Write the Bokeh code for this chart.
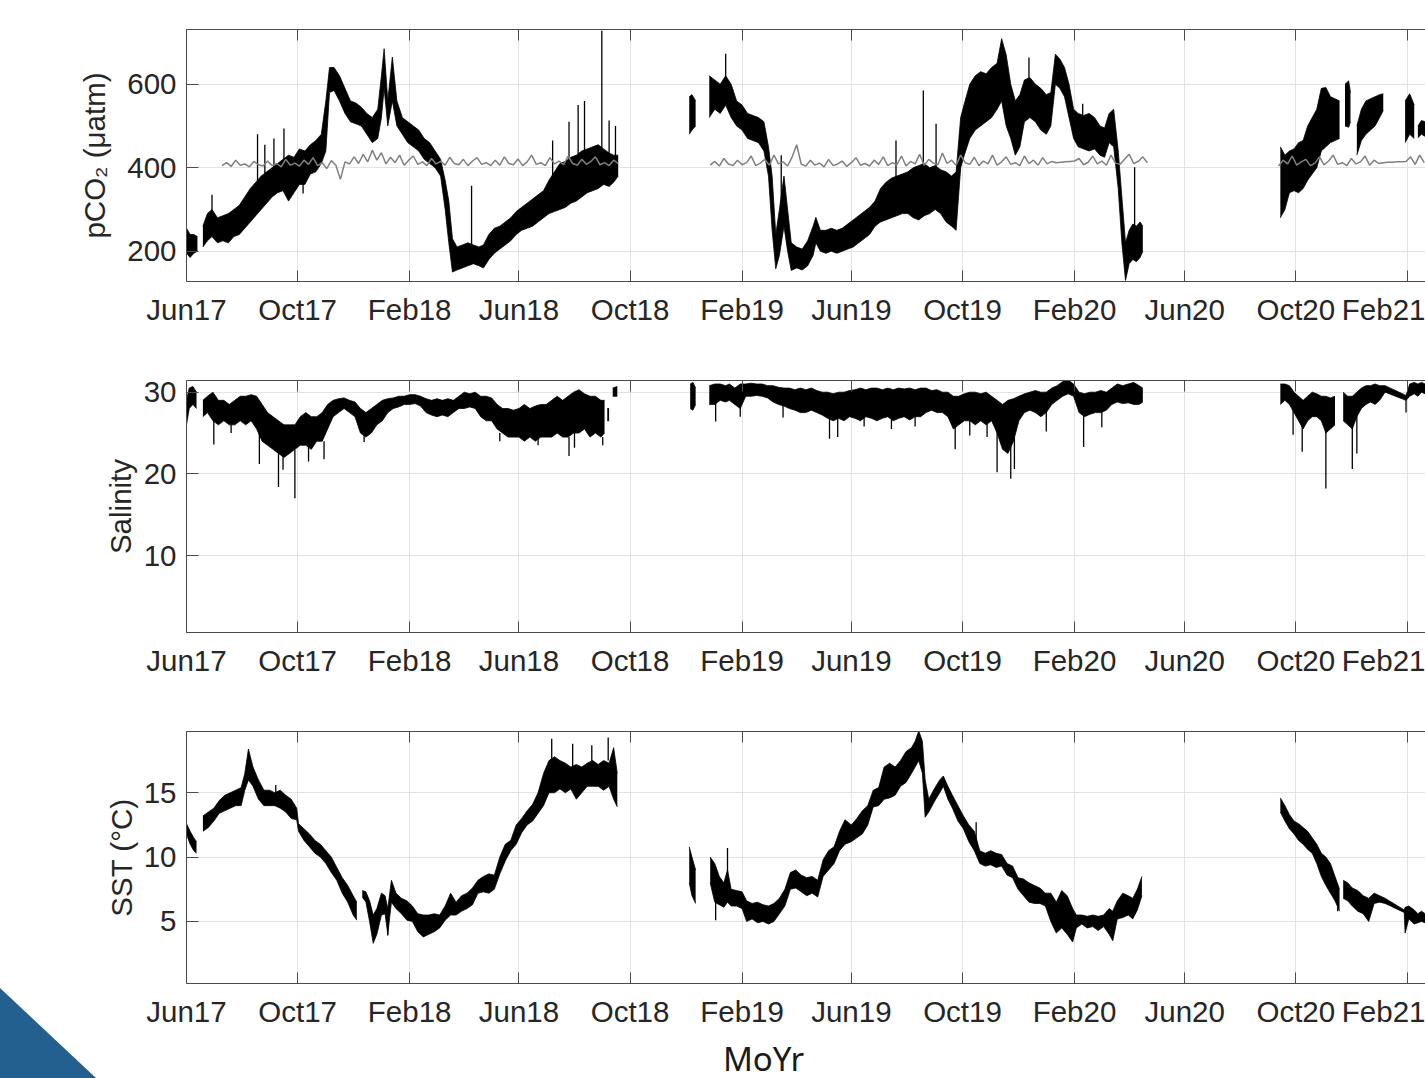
import pandas as pd
from bokeh.plotting import figure
from bokeh.layouts import column
from bokeh.models import Range1d, FixedTicker, DatetimeAxis, CustomJSTickFormatter, Div
from bokeh.embed import file_html
from bokeh.resources import INLINE

# ---------------- axis data ----------------
TICK_DATES = ["2017-06-01", "2017-10-01", "2018-02-01", "2018-06-01", "2018-10-01",
              "2019-02-01", "2019-06-01", "2019-10-01", "2020-02-01", "2020-06-01",
              "2020-10-01", "2021-02-01"]
TICK_LABELS = ["Jun17", "Oct17", "Feb18", "Jun18", "Oct18", "Feb19", "Jun19", "Oct19",
               "Feb20", "Jun20", "Oct20", "Feb21"]
X_START, X_END = "2017-06-01", "2021-02-20 09:00"
X_TITLE = "MoYr"

PCO2_RANGE = (127.4, 731.0)
SAL_RANGE = (0.58, 31.43)
SST_RANGE = (0.18, 19.76)
PCO2_TICKS = [200, 400, 600]
SAL_TICKS = [10, 20, 30]
SST_TICKS = [5, 10, 15]

# ---------------- pCO2 water (date, low, high) ----------------
pco2_1a = [("2017-06-01", 195, 255), ("2017-06-05", 185, 240), ("2017-06-09", 195, 240),
           ("2017-06-13", 200, 235)]
pco2_1b = [("2017-06-19", 210, 260), ("2017-06-24", 225, 290), ("2017-06-29", 235, 300),
           ("2017-07-05", 220, 280), ("2017-07-11", 225, 285), ("2017-07-17", 220, 290),
           ("2017-07-23", 235, 300), ("2017-07-29", 240, 310), ("2017-08-04", 255, 330),
           ("2017-08-10", 270, 350), ("2017-08-16", 285, 365), ("2017-08-22", 300, 380),
           ("2017-08-28", 315, 390), ("2017-09-03", 330, 400), ("2017-09-09", 340, 410),
           ("2017-09-15", 345, 420), ("2017-09-21", 320, 430), ("2017-09-27", 340, 425),
           ("2017-10-03", 360, 445), ("2017-10-09", 360, 440), ("2017-10-15", 385, 455),
           ("2017-10-21", 390, 465), ("2017-10-27", 410, 480), ("2017-11-01", 440, 560),
           ("2017-11-05", 580, 640), ("2017-11-10", 585, 640), ("2017-11-16", 560, 620),
           ("2017-11-22", 530, 590), ("2017-11-28", 510, 560), ("2017-12-04", 505, 555),
           ("2017-12-10", 500, 545), ("2017-12-16", 480, 530), ("2017-12-22", 460, 520),
           ("2017-12-28", 470, 540), ("2018-01-01", 520, 620), ("2018-01-04", 590, 685),
           ("2018-01-08", 500, 560), ("2018-01-13", 560, 665), ("2018-01-18", 500, 560),
           ("2018-01-24", 480, 520), ("2018-01-30", 460, 510), ("2018-02-05", 450, 500),
           ("2018-02-11", 440, 490), ("2018-02-17", 420, 470), ("2018-02-23", 410, 460),
           ("2018-03-01", 400, 440), ("2018-03-07", 380, 420), ("2018-03-12", 300, 370),
           ("2018-03-16", 220, 320), ("2018-03-20", 150, 230), ("2018-03-25", 155, 210),
           ("2018-03-31", 160, 215), ("2018-04-06", 165, 220), ("2018-04-12", 170, 215),
           ("2018-04-18", 165, 210), ("2018-04-23", 160, 215), ("2018-04-29", 180, 240),
           ("2018-05-05", 195, 255), ("2018-05-11", 205, 260), ("2018-05-17", 215, 270),
           ("2018-05-23", 225, 280), ("2018-05-29", 240, 295), ("2018-06-04", 250, 305),
           ("2018-06-10", 255, 315), ("2018-06-16", 260, 325), ("2018-06-22", 270, 335),
           ("2018-06-28", 280, 345), ("2018-07-04", 290, 370), ("2018-07-10", 295, 390),
           ("2018-07-16", 300, 410), ("2018-07-22", 305, 415), ("2018-07-28", 315, 425),
           ("2018-08-03", 320, 430), ("2018-08-09", 330, 440), ("2018-08-15", 340, 445),
           ("2018-08-21", 345, 450), ("2018-08-27", 350, 455), ("2018-09-02", 360, 445),
           ("2018-09-08", 355, 435), ("2018-09-13", 365, 430), ("2018-09-18", 380, 430)]
pco2_2a = [("2018-12-05", 480, 570), ("2018-12-08", 490, 575), ("2018-12-12", 500, 560)]
pco2_2b = [("2018-12-27", 520, 620), ("2019-01-02", 540, 610), ("2019-01-08", 530, 600),
           ("2019-01-14", 550, 620), ("2019-01-20", 520, 600), ("2019-01-26", 500, 560),
           ("2019-02-01", 490, 550), ("2019-02-07", 470, 530), ("2019-02-13", 465, 525),
           ("2019-02-19", 460, 520), ("2019-02-25", 440, 510), ("2019-03-02", 380, 450),
           ("2019-03-06", 250, 380), ("2019-03-10", 158, 240), ("2019-03-14", 190, 300),
           ("2019-03-19", 260, 380), ("2019-03-23", 200, 300), ("2019-03-27", 154, 220),
           ("2019-04-02", 160, 210), ("2019-04-08", 155, 205), ("2019-04-14", 165, 225),
           ("2019-04-20", 190, 260), ("2019-04-23", 220, 281), ("2019-04-28", 200, 250),
           ("2019-05-04", 195, 250), ("2019-05-10", 200, 255), ("2019-05-16", 195, 250),
           ("2019-05-22", 200, 255), ("2019-05-28", 205, 265), ("2019-06-03", 210, 275),
           ("2019-06-09", 220, 285), ("2019-06-15", 230, 295), ("2019-06-21", 240, 305),
           ("2019-06-27", 260, 320), ("2019-07-03", 270, 350), ("2019-07-09", 275, 365),
           ("2019-07-15", 280, 375), ("2019-07-21", 285, 380), ("2019-07-27", 290, 385),
           ("2019-08-02", 290, 390), ("2019-08-08", 280, 400), ("2019-08-14", 275, 405),
           ("2019-08-20", 285, 410), ("2019-08-26", 290, 400), ("2019-09-01", 300, 405),
           ("2019-09-07", 290, 395), ("2019-09-13", 270, 390), ("2019-09-19", 260, 380),
           ("2019-09-24", 250, 390), ("2019-09-29", 400, 520), ("2019-10-03", 430, 553),
           ("2019-10-09", 470, 600), ("2019-10-15", 490, 620), ("2019-10-21", 500, 630),
           ("2019-10-27", 510, 625), ("2019-11-02", 520, 640), ("2019-11-08", 540, 650),
           ("2019-11-13", 560, 709), ("2019-11-18", 500, 670), ("2019-11-23", 470, 600),
           ("2019-11-28", 430, 560), ("2019-12-03", 450, 575), ("2019-12-08", 510, 610),
           ("2019-12-14", 520, 616), ("2019-12-20", 510, 600), ("2019-12-26", 490, 590),
           ("2020-01-01", 480, 575), ("2020-01-06", 500, 580), ("2020-01-11", 600, 672),
           ("2020-01-16", 590, 660), ("2020-01-21", 570, 640), ("2020-01-26", 520, 600),
           ("2020-01-31", 470, 540), ("2020-02-05", 450, 530), ("2020-02-11", 445, 525),
           ("2020-02-17", 440, 530), ("2020-02-23", 445, 520), ("2020-02-29", 430, 500),
           ("2020-03-05", 425, 495), ("2020-03-10", 460, 530), ("2020-03-15", 450, 540),
           ("2020-03-20", 350, 440), ("2020-03-24", 220, 330), ("2020-03-28", 130, 220),
           ("2020-04-01", 170, 250), ("2020-04-05", 180, 265), ("2020-04-09", 175, 260),
           ("2020-04-13", 185, 270), ("2020-04-16", 200, 260)]
pco2_3a = [("2020-09-14", 280, 450), ("2020-09-19", 300, 430), ("2020-09-24", 340, 440),
           ("2020-09-29", 345, 445), ("2020-10-04", 340, 460), ("2020-10-09", 350, 465),
           ("2020-10-14", 370, 500), ("2020-10-19", 385, 520), ("2020-10-24", 400, 540),
           ("2020-10-29", 440, 590), ("2020-11-03", 450, 592), ("2020-11-08", 460, 570),
           ("2020-11-13", 465, 565), ("2020-11-18", 470, 560)]
pco2_3b = [("2020-11-24", 500, 600), ("2020-11-28", 497, 608), ("2020-11-30", 510, 580)]
pco2_3c = [("2020-12-07", 430, 500), ("2020-12-12", 465, 540), ("2020-12-17", 480, 560),
           ("2020-12-22", 490, 565), ("2020-12-27", 500, 570), ("2021-01-01", 520, 575),
           ("2021-01-05", 537, 577)]
pco2_3d = [("2021-01-29", 460, 560), ("2021-02-03", 480, 577), ("2021-02-08", 470, 550)]
pco2_3e = [("2021-02-12", 472, 500), ("2021-02-16", 480, 513), ("2021-02-20", 475, 510)]
pco2_spikes = [("2017-06-29", 290, 335), ("2017-08-18", 360, 480), ("2017-08-26", 380, 455),
               ("2017-09-05", 395, 470), ("2017-09-16", 415, 494), ("2017-10-07", 370, 338),
               ("2018-04-10", 215, 357), ("2018-07-08", 380, 465), ("2018-07-26", 420, 510),
               ("2018-08-05", 425, 550), ("2018-08-12", 440, 560), ("2018-08-31", 445, 728),
               ("2018-09-08", 430, 513), ("2018-09-15", 425, 500), ("2019-01-14", 600, 673),
               ("2019-03-16", 300, 430), ("2019-07-20", 375, 465), ("2019-08-19", 405, 585),
               ("2019-09-02", 400, 505), ("2019-09-28", 390, 481), ("2019-12-13", 610, 664),
               ("2020-02-10", 525, 553), ("2020-04-07", 260, 401)]

# ---------------- pCO2 atmosphere: start date, 5-day samples ----------------
ATM_STEP = "5D"
atm_1_start = "2017-07-10"
atm_1 = [405, 412, 403, 418, 406, 409, 402, 415, 407, 404,
         416, 405, 410, 402, 420, 406, 411, 404, 418, 408,
         424, 405, 412, 398, 417, 406, 372, 414, 409, 426,
         410, 432, 414, 442, 418, 436, 409, 425, 412, 430,
         406, 418, 428, 408, 414, 405, 422, 409, 415, 406,
         425, 410, 407, 420, 405, 416, 424, 408, 412, 405,
         418, 406, 426, 410, 407, 421, 405, 414, 430, 408,
         412, 405, 424, 409, 416, 407, 428, 410, 406, 420,
         408, 415, 426, 407, 412, 405, 418, 410]
atm_2_start = "2018-12-28"
atm_2 = [406, 415, 404, 422, 409, 405, 418, 407, 412, 428,
         405, 411, 420, 406, 430, 409, 414, 404, 426, 455,
         408, 404, 418, 406, 411, 402, 420, 405, 409, 416,
         403, 412, 424, 406, 410, 404, 418, 408, 426, 405,
         412, 407, 428, 404, 415, 409, 432, 406, 420, 411,
         407, 435, 410, 418, 406, 430, 412, 408, 425, 405,
         416, 409, 430, 406, 414, 426, 408, 412, 405, 428,
         410, 418, 406, 424, 409, 415, 412, 413, 414, 415,
         416, 422, 407, 413, 428, 409, 416, 406, 430, 411,
         408, 420, 432, 410, 415, 426, 412]
atm_3_start = "2020-09-12"
atm_3 = [404, 418, 409, 428, 406, 414, 420, 405, 411, 426,
         407, 416, 430, 408, 412, 405, 422, 409, 414, 428,
         406, 418, 410, 412, 413, 413, 414, 414, 415, 426,
         408, 430, 412]

# ---------------- Salinity (date, low, high) ----------------
sal_1a = [("2017-06-01", 26, 29), ("2017-06-04", 28, 30.5), ("2017-06-08", 28.5, 30.7),
          ("2017-06-12", 28, 30)]
sal_1b = [("2017-06-19", 27, 29), ("2017-06-24", 27.5, 29.5), ("2017-06-30", 26.5, 30),
          ("2017-07-06", 26, 29), ("2017-07-12", 26.5, 29), ("2017-07-18", 26, 28.5),
          ("2017-07-24", 26, 29), ("2017-07-30", 26.5, 29.5), ("2017-08-05", 26, 29.5),
          ("2017-08-11", 26.5, 29.7), ("2017-08-17", 25.5, 29.5), ("2017-08-23", 24, 28.5),
          ("2017-08-29", 23.5, 27.5), ("2017-09-04", 23, 27), ("2017-09-10", 22.5, 26.5),
          ("2017-09-16", 22, 26), ("2017-09-22", 22.5, 26), ("2017-09-28", 23, 26),
          ("2017-10-04", 23.5, 27), ("2017-10-10", 23.5, 27.5), ("2017-10-16", 23, 27),
          ("2017-10-22", 24, 27), ("2017-10-28", 24, 27.5), ("2017-11-03", 25.5, 28.5),
          ("2017-11-09", 27, 29), ("2017-11-15", 27.5, 29.2), ("2017-11-21", 28, 29.3),
          ("2017-11-27", 27.5, 29), ("2017-12-03", 27, 28.8), ("2017-12-09", 25, 28),
          ("2017-12-15", 24.5, 27.5), ("2017-12-21", 25, 28), ("2017-12-27", 26, 28.5),
          ("2018-01-02", 26.5, 29), ("2018-01-08", 27.5, 29.2), ("2018-01-14", 28, 29.3),
          ("2018-01-20", 28.2, 29.5), ("2018-01-26", 28.5, 29.5), ("2018-02-01", 28.5, 29.7),
          ("2018-02-07", 28.6, 29.7), ("2018-02-13", 28.3, 29.5), ("2018-02-19", 27.5, 29.2),
          ("2018-02-25", 27.2, 29), ("2018-03-03", 27, 29.2), ("2018-03-09", 27.2, 29),
          ("2018-03-15", 27, 29.2), ("2018-03-21", 27.5, 29), ("2018-03-27", 28, 29.5),
          ("2018-04-02", 28, 30), ("2018-04-08", 28.2, 29.8), ("2018-04-14", 28, 30),
          ("2018-04-20", 27, 29.5), ("2018-04-26", 26.5, 29.5), ("2018-05-02", 26.5, 29.3),
          ("2018-05-08", 25.5, 28.5), ("2018-05-14", 25, 28), ("2018-05-20", 24.5, 28),
          ("2018-05-26", 24.5, 27.8), ("2018-06-01", 24.5, 28), ("2018-06-07", 24, 28.5),
          ("2018-06-13", 24.5, 28), ("2018-06-19", 24, 28.3), ("2018-06-25", 24.5, 28.5),
          ("2018-07-01", 24.5, 28.5), ("2018-07-07", 24.5, 29), ("2018-07-13", 25, 29.5),
          ("2018-07-19", 24.5, 29), ("2018-07-25", 24.5, 29.5), ("2018-07-31", 25, 30),
          ("2018-08-06", 25, 30.3), ("2018-08-12", 25.5, 29.8), ("2018-08-18", 24.5, 29.5),
          ("2018-08-24", 25, 29.5), ("2018-08-30", 24.5, 29), ("2018-09-03", 25, 29)]
sal_1c = [("2018-09-06", 26.5, 28), ("2018-09-08", 26.5, 28)]
sal_1d = [("2018-09-12", 29.5, 30.5), ("2018-09-17", 29.5, 30.7)]
sal_2a = [("2018-12-06", 28, 31), ("2018-12-09", 27.8, 31.2), ("2018-12-12", 28.5, 30.5)]
sal_2b = [("2018-12-27", 28.5, 30.8), ("2019-01-02", 28.5, 31), ("2019-01-08", 29, 31),
          ("2019-01-14", 28.8, 30.8), ("2019-01-18", 29, 31), ("2019-01-24", 28.5, 30.5),
          ("2019-01-30", 28, 31), ("2019-02-05", 29.5, 31), ("2019-02-11", 29.5, 31.1),
          ("2019-02-17", 29.6, 31), ("2019-02-23", 29.5, 31), ("2019-03-01", 29.3, 30.8),
          ("2019-03-07", 28.8, 30.8), ("2019-03-13", 28.5, 30.6), ("2019-03-19", 28.3, 30.5),
          ("2019-03-25", 28, 30.5), ("2019-03-31", 27.8, 30.3), ("2019-04-06", 27.5, 30.5),
          ("2019-04-12", 27.5, 30.3), ("2019-04-18", 27.8, 30.5), ("2019-04-24", 27.5, 30.2),
          ("2019-04-30", 27.2, 30), ("2019-05-06", 26.8, 30), ("2019-05-12", 26.5, 29.8),
          ("2019-05-18", 26.8, 30), ("2019-05-24", 26.5, 30), ("2019-05-30", 27, 30.2),
          ("2019-06-05", 26.8, 30.3), ("2019-06-11", 26.5, 30.5), ("2019-06-17", 27, 30.3),
          ("2019-06-23", 26.8, 30.5), ("2019-06-29", 26.5, 30.5), ("2019-07-05", 26.8, 30.3),
          ("2019-07-11", 27, 30.5), ("2019-07-17", 26.5, 30.3), ("2019-07-23", 26.8, 30.5),
          ("2019-07-29", 27, 30.4), ("2019-08-04", 26.6, 30.5), ("2019-08-10", 27, 30.3),
          ("2019-08-16", 27, 30.5), ("2019-08-22", 27.5, 30.5), ("2019-08-28", 27.8, 30.2),
          ("2019-09-03", 27.5, 30.3), ("2019-09-09", 27.5, 30), ("2019-09-15", 27, 30),
          ("2019-09-21", 25.5, 29.5), ("2019-09-27", 26, 29.5), ("2019-10-03", 26.5, 29.8),
          ("2019-10-09", 26.5, 30), ("2019-10-15", 26, 30), ("2019-10-21", 26.5, 29.8),
          ("2019-10-27", 26, 30), ("2019-11-02", 26.5, 29.5), ("2019-11-08", 25, 29),
          ("2019-11-14", 23, 28.5), ("2019-11-20", 22.5, 29), ("2019-11-26", 24, 29.2),
          ("2019-12-02", 26.5, 29.5), ("2019-12-08", 27.5, 29.8), ("2019-12-14", 27.8, 30),
          ("2019-12-20", 27.5, 30.2), ("2019-12-26", 27, 30), ("2020-01-01", 27.5, 30),
          ("2020-01-07", 28.5, 30.5), ("2020-01-13", 29, 30.8), ("2020-01-19", 29.5, 31.3),
          ("2020-01-25", 29.8, 31.5), ("2020-01-31", 29.5, 31), ("2020-02-06", 27.5, 30),
          ("2020-02-12", 27, 29.8), ("2020-02-18", 27.3, 30), ("2020-02-24", 27.5, 30),
          ("2020-03-01", 27.5, 30.2), ("2020-03-07", 27.8, 30), ("2020-03-13", 28.5, 30.5),
          ("2020-03-19", 28.8, 31), ("2020-03-25", 28.6, 30.8), ("2020-03-31", 28.7, 31),
          ("2020-04-06", 28.5, 31.2), ("2020-04-12", 28.5, 30.8), ("2020-04-16", 28.8, 30.5)]
sal_3a = [("2020-09-14", 28.5, 31), ("2020-09-19", 29, 31), ("2020-09-24", 28.5, 30.8),
          ("2020-09-29", 27.5, 30), ("2020-10-04", 26.5, 29.5), ("2020-10-09", 25.5, 29),
          ("2020-10-14", 26.5, 29.5), ("2020-10-19", 27, 30), ("2020-10-24", 27, 29.8),
          ("2020-10-29", 26.5, 29.5), ("2020-11-03", 25, 29.5), ("2020-11-08", 25.5, 29.3),
          ("2020-11-13", 26, 29.5)]
sal_3b = [("2020-11-22", 26.5, 30), ("2020-11-27", 26, 29.5), ("2020-12-02", 25.5, 29.5),
          ("2020-12-07", 27, 30), ("2020-12-12", 28, 30.5), ("2020-12-17", 28.5, 30.8),
          ("2020-12-22", 28.8, 30.8), ("2020-12-27", 28.5, 31), ("2021-01-01", 29, 30.8),
          ("2021-01-07", 30, 30.8), ("2021-01-30", 29, 29.6), ("2021-02-03", 29.5, 31),
          ("2021-02-08", 29.8, 31.2), ("2021-02-12", 29.5, 31), ("2021-02-16", 30, 31.2),
          ("2021-02-20", 29.8, 31)]
sal_spikes = [("2017-07-01", 26.5, 23.6), ("2017-07-20", 26, 25), ("2017-08-20", 25, 21.2),
              ("2017-09-10", 23, 18.4), ("2017-09-15", 22.5, 20.5), ("2017-09-28", 23, 17),
              ("2017-10-13", 23.5, 21.5), ("2017-10-30", 24, 21.8), ("2017-12-13", 25, 23.9),
              ("2018-05-11", 25, 24), ("2018-06-22", 24.5, 23.5), ("2018-07-26", 24.5, 22.2),
              ("2018-08-01", 25, 23.2), ("2018-09-01", 24.5, 23.5), ("2019-01-03", 29, 26.4),
              ("2019-01-30", 29, 27), ("2019-03-18", 29, 26.9), ("2019-05-08", 27.5, 24.3),
              ("2019-05-17", 27.5, 24.5), ("2019-06-15", 27.5, 25.8), ("2019-07-15", 27.5, 25.5),
              ("2019-08-10", 27.5, 25.8), ("2019-09-23", 26, 23), ("2019-10-09", 27, 24.7),
              ("2019-10-28", 27, 24.5), ("2019-11-08", 25.5, 20.2), ("2019-11-23", 23.5, 19.4),
              ("2019-11-27", 24.5, 20.6), ("2020-01-01", 28, 25.2), ("2020-02-11", 27.5, 23.3),
              ("2020-03-02", 28, 25.7), ("2020-09-28", 28, 24.8), ("2020-10-08", 26, 22.7),
              ("2020-11-03", 25.5, 18.2), ("2020-12-02", 26, 20.6), ("2020-12-07", 27.5, 22.5),
              ("2021-01-30", 29.3, 27.5)]

# ---------------- SST (date, low, high) ----------------
sst_1a = [("2017-06-01", 11.8, 12.6), ("2017-06-05", 11, 12), ("2017-06-09", 10.5, 11.5),
          ("2017-06-12", 10.3, 11.2)]
sst_1b = [("2017-06-19", 12, 13.2), ("2017-06-25", 12.3, 13.5), ("2017-07-01", 12.8, 13.8),
          ("2017-07-07", 13.4, 14.4), ("2017-07-13", 13.6, 14.8), ("2017-07-19", 13.8, 15),
          ("2017-07-25", 14, 15.2), ("2017-07-31", 14, 15.4), ("2017-08-04", 15.2, 16.5),
          ("2017-08-08", 16, 18.4), ("2017-08-13", 15.5, 17), ("2017-08-19", 14.5, 16),
          ("2017-08-25", 14, 15.2), ("2017-08-31", 14, 15.2), ("2017-09-06", 14, 15),
          ("2017-09-12", 13.8, 15.2), ("2017-09-18", 13.5, 14.8), ("2017-09-24", 13, 14.5),
          ("2017-09-30", 12.9, 13.8), ("2017-10-02", 12, 12.6), ("2017-10-08", 11.3, 12.2),
          ("2017-10-14", 10.8, 11.8), ("2017-10-20", 10.3, 11.3), ("2017-10-26", 10, 11),
          ("2017-11-01", 9.5, 10.5), ("2017-11-07", 8.8, 10), ("2017-11-13", 8.2, 9.2),
          ("2017-11-19", 7.2, 8.4), ("2017-11-25", 6.5, 7.8), ("2017-12-01", 5.5, 7),
          ("2017-12-05", 5.1, 6.5)]
sst_1c = [("2017-12-11", 6.9, 7.4), ("2017-12-15", 6.5, 7.3), ("2017-12-19", 5, 6.6),
          ("2017-12-23", 3.3, 5.5), ("2017-12-27", 4, 6), ("2018-01-01", 5.5, 7.2),
          ("2018-01-05", 5.6, 7), ("2018-01-08", 4, 6), ("2018-01-12", 6.5, 8.2),
          ("2018-01-17", 6, 7.2), ("2018-01-23", 5.6, 6.8), ("2018-01-29", 5.1, 6.6),
          ("2018-02-04", 5, 6.2), ("2018-02-10", 4.2, 5.6), ("2018-02-16", 3.8, 5.5),
          ("2018-02-22", 4, 5.5), ("2018-02-28", 4.2, 5.6), ("2018-03-06", 4.5, 5.5),
          ("2018-03-12", 5.1, 6.2), ("2018-03-18", 5.5, 7.2), ("2018-03-24", 5.5, 6.5),
          ("2018-03-30", 5.8, 7), ("2018-04-05", 6, 7.2), ("2018-04-11", 6.3, 7.6),
          ("2018-04-17", 7.2, 8.2), ("2018-04-23", 7.3, 8.5), ("2018-04-29", 7.2, 8.7),
          ("2018-05-05", 7.5, 8.6), ("2018-05-11", 8.7, 10), ("2018-05-17", 9.7, 11),
          ("2018-05-23", 10.5, 11.3), ("2018-05-29", 11, 12.5), ("2018-06-04", 11.9, 13),
          ("2018-06-10", 12.5, 13.6), ("2018-06-16", 12.8, 14.1), ("2018-06-22", 13.4, 15),
          ("2018-06-28", 14, 16.5), ("2018-07-04", 15, 17.5), ("2018-07-10", 15, 17.8),
          ("2018-07-16", 15.3, 17.5), ("2018-07-22", 15, 17.3), ("2018-07-28", 15.3, 17),
          ("2018-08-03", 14.5, 17.2), ("2018-08-09", 15, 17), ("2018-08-15", 15.5, 17.3),
          ("2018-08-21", 15.5, 17.5), ("2018-08-27", 15.5, 17.2), ("2018-09-02", 15.2, 17.5),
          ("2018-09-08", 15.5, 17.3), ("2018-09-13", 14.5, 18.5), ("2018-09-17", 13.9, 16.5)]
sst_2a = [("2018-12-05", 8, 10.8), ("2018-12-08", 7, 10), ("2018-12-12", 6.4, 9)]
sst_2b = [("2018-12-28", 8, 10), ("2019-01-02", 6.5, 9.5), ("2019-01-07", 6.3, 8.5),
          ("2019-01-12", 6.1, 8), ("2019-01-16", 6.5, 9), ("2019-01-20", 6.2, 7.5),
          ("2019-01-26", 6.2, 7.4), ("2019-02-01", 6, 7.3), ("2019-02-06", 5, 6.6),
          ("2019-02-12", 5.2, 6.4), ("2019-02-18", 4.9, 6.5), ("2019-02-24", 5, 6.3),
          ("2019-03-02", 4.8, 6.2), ("2019-03-08", 5, 6.4), ("2019-03-14", 5.6, 6.8),
          ("2019-03-20", 6.2, 7.5), ("2019-03-26", 7.5, 8.8), ("2019-04-01", 7.6, 9),
          ("2019-04-07", 7.3, 8.6), ("2019-04-13", 7, 8.4), ("2019-04-19", 7.2, 8.5),
          ("2019-04-25", 6.9, 8.2), ("2019-05-01", 8.5, 9.8), ("2019-05-07", 9, 10.5),
          ("2019-05-13", 9.5, 10.8), ("2019-05-19", 10.5, 12), ("2019-05-25", 11, 12.9),
          ("2019-06-01", 11.2, 12.5), ("2019-06-07", 11.5, 13), ("2019-06-13", 11.8, 13.6),
          ("2019-06-19", 12.5, 14), ("2019-06-25", 13.9, 15.2), ("2019-07-01", 14, 15.4),
          ("2019-07-07", 14.5, 17), ("2019-07-13", 14.6, 17.3), ("2019-07-19", 14.8, 17),
          ("2019-07-25", 15.5, 17.5), ("2019-07-31", 15.8, 18.2), ("2019-08-06", 16.5, 18.5),
          ("2019-08-10", 17, 19), ("2019-08-14", 17.5, 19.8), ("2019-08-18", 16.5, 19),
          ("2019-08-21", 13.1, 16), ("2019-08-25", 13.5, 14.5), ("2019-08-31", 14.3, 15.3),
          ("2019-09-06", 15, 16), ("2019-09-10", 15.5, 16.3), ("2019-09-15", 14.5, 15.5),
          ("2019-09-20", 13.8, 14.8), ("2019-09-26", 12.8, 14), ("2019-10-02", 12.2, 13.2),
          ("2019-10-08", 11.2, 12.5), ("2019-10-14", 10.5, 12), ("2019-10-20", 9.5, 10.5),
          ("2019-10-26", 9.3, 10.3), ("2019-11-01", 9.4, 10.5), ("2019-11-07", 9.2, 10.3),
          ("2019-11-13", 9.3, 10.2), ("2019-11-19", 8.6, 9.5), ("2019-11-25", 8.4, 9.3),
          ("2019-12-01", 7.5, 8.4), ("2019-12-07", 7, 8.3), ("2019-12-13", 6.5, 8),
          ("2019-12-19", 6.4, 7.8), ("2019-12-25", 6.4, 7.6), ("2019-12-31", 6.2, 7.2),
          ("2020-01-06", 5, 7.2), ("2020-01-12", 4.1, 6.5), ("2020-01-18", 4.5, 7.4),
          ("2020-01-24", 4, 7), ("2020-01-30", 3.4, 6), ("2020-02-03", 4.5, 5.5),
          ("2020-02-09", 4.8, 5.5), ("2020-02-15", 4.5, 5.4), ("2020-02-21", 4.6, 5.5),
          ("2020-02-27", 4.3, 5.4), ("2020-03-04", 4.6, 5.5), ("2020-03-10", 4, 6),
          ("2020-03-14", 3.5, 5.8), ("2020-03-19", 5.2, 6.6), ("2020-03-25", 5.3, 7.2),
          ("2020-03-31", 5.5, 7), ("2020-04-05", 5.2, 6.8), ("2020-04-10", 5.9, 7.5),
          ("2020-04-15", 7, 8.5)]
sst_3a = [("2020-09-14", 13.5, 14.6), ("2020-09-19", 12.8, 14), ("2020-09-24", 12.2, 13.3),
          ("2020-09-29", 11.8, 12.8), ("2020-10-04", 11.3, 12.6), ("2020-10-09", 11, 12.3),
          ("2020-10-14", 10.6, 12), ("2020-10-19", 10.3, 11.5), ("2020-10-24", 9.5, 11),
          ("2020-10-29", 8.5, 10.3), ("2020-11-03", 7.8, 10), ("2020-11-08", 7.2, 9.5),
          ("2020-11-13", 6.6, 8.5), ("2020-11-18", 5.8, 7.5)]
sst_3b = [("2020-11-22", 6.8, 8.2), ("2020-11-27", 6.6, 8), ("2020-12-02", 6.2, 7.6),
          ("2020-12-08", 5.8, 7.4), ("2020-12-14", 5.6, 7), ("2020-12-20", 5, 6.8),
          ("2020-12-26", 6.4, 7.2), ("2021-01-01", 6.5, 7), ("2021-01-07", 6.4, 6.8),
          ("2021-01-28", 5.7, 5.9), ("2021-01-29", 4.1, 6.1), ("2021-02-02", 5.2, 6.2),
          ("2021-02-08", 4.8, 5.9), ("2021-02-12", 4.9, 5.6), ("2021-02-16", 5, 5.8),
          ("2021-02-20", 4.9, 5.6)]
sst_spikes = [("2017-09-07", 14.5, 15.6), ("2018-01-08", 5.5, 3.9), ("2018-07-07", 17.5, 19.2),
              ("2018-07-30", 17, 18.8), ("2018-08-20", 17, 18.7), ("2018-09-07", 17.5, 19.3),
              ("2019-01-03", 6.5, 5.1), ("2019-01-16", 8.5, 10.7), ("2019-10-16", 10.8, 12.7),
              ("2020-11-16", 7, 5.8)]

# ---------------- corner decoration (pixel space of the bottom strip) ----------------
STRIP_H = 90
CORNER_X = [0, 0, 96]
CORNER_Y = [0, 90, 90]

# ---------------- styling ----------------
W = 1425
FONT = "Liberation Sans"
TICK_SIZE = "29.5px"
TXT = "#262626"
AX = "#4a4a4a"
GRID = "#e3e3e3"
BLUE = "#24608f"
GRAY = "#808080"

xr = Range1d(start=pd.Timestamp(X_START), end=pd.Timestamp(X_END))
tick_ms = [pd.Timestamp(d).value // 10**6 for d in TICK_DATES]
tick_js = ("const lbls = %s; const tv = %s; const k = tv.indexOf(Math.round(tick));"
           " return k >= 0 ? lbls[k] : '';") % (str(TICK_LABELS), str(tick_ms))


def panel(height, top_border, yrange, yticks, ylabel, bottom, label_standoff):
    p = figure(width=W, height=height, x_range=xr, y_range=Range1d(*yrange),
               x_axis_type="datetime", output_backend="svg", toolbar_location=None,
               min_border_left=186, min_border_right=0, min_border_top=top_border,
               min_border_bottom=bottom, background_fill_color="white",
               border_fill_color="white")
    p.outline_line_color = None

    ax = p.xaxis[0]
    ax.ticker = FixedTicker(ticks=tick_ms)
    ax.formatter = CustomJSTickFormatter(code=tick_js)
    ax.major_tick_in = 11
    ax.major_tick_out = 0
    ax.minor_tick_in = 0
    ax.minor_tick_out = 0
    ax.major_label_standoff = 11
    ax.major_label_text_font = FONT
    ax.major_label_text_font_size = TICK_SIZE
    ax.major_label_text_color = TXT
    ax.axis_line_color = AX
    ax.major_tick_line_color = AX

    top = DatetimeAxis(ticker=FixedTicker(ticks=tick_ms),
                       formatter=CustomJSTickFormatter(code="return '';"),
                       major_label_text_font_size="1px", major_label_standoff=0,
                       major_tick_in=11, major_tick_out=0, minor_tick_in=0,
                       minor_tick_out=0, axis_line_color=AX, major_tick_line_color=AX)
    p.add_layout(top, "above")

    ay = p.yaxis[0]
    ay.ticker = FixedTicker(ticks=yticks)
    ay.major_tick_in = 12
    ay.major_tick_out = 0
    ay.minor_tick_in = 0
    ay.minor_tick_out = 0
    ay.major_label_standoff = 10
    ay.major_label_text_font = FONT
    ay.major_label_text_font_size = TICK_SIZE
    ay.major_label_text_color = TXT
    ay.axis_line_color = AX
    ay.major_tick_line_color = AX
    ay.axis_label = ylabel
    ay.axis_label_text_font = FONT
    ay.axis_label_text_font_size = TICK_SIZE
    ay.axis_label_text_font_style = "normal"
    ay.axis_label_text_color = TXT
    ay.axis_label_standoff = label_standoff

    p.xgrid.ticker = FixedTicker(ticks=tick_ms)
    p.ygrid.ticker = FixedTicker(ticks=yticks)
    p.xgrid.grid_line_color = GRID
    p.ygrid.grid_line_color = GRID
    return p


def draw_band(p, seg, color="black"):
    xs = pd.to_datetime([r[0] for r in seg])
    lo = [r[1] for r in seg]
    hi = [r[2] for r in seg]
    p.varea(x=xs, y1=lo, y2=hi, fill_color=color, fill_alpha=1.0)
    p.line(x=xs, y=hi, line_color=color, line_width=0.8)
    p.line(x=xs, y=lo, line_color=color, line_width=0.8)


def draw_trace(p, start, values, color):
    xs = pd.date_range(start, periods=len(values), freq=ATM_STEP)
    p.line(x=xs, y=values, line_color=color, line_width=1.5)


def draw_spikes(p, spikes, color="black"):
    xs = pd.to_datetime([r[0] for r in spikes])
    p.segment(x0=xs, y0=[r[1] for r in spikes], x1=xs, y1=[r[2] for r in spikes],
              line_color=color, line_width=1.3)


# panel 1: pCO2
p1 = panel(359, 29, PCO2_RANGE, PCO2_TICKS, "pCO\u2082 (\u03bcatm)", 78, 13)
for seg in [pco2_1a, pco2_1b, pco2_2a, pco2_2b, pco2_3a, pco2_3b, pco2_3c, pco2_3d, pco2_3e]:
    draw_band(p1, seg)
draw_spikes(p1, pco2_spikes)
for st, vals in [(atm_1_start, atm_1), (atm_2_start, atm_2), (atm_3_start, atm_3)]:
    draw_trace(p1, st, vals, GRAY)

# panel 2: salinity
p2 = panel(351, 21, SAL_RANGE, SAL_TICKS, "Salinity", 78, 4)
for seg in [sal_1a, sal_1b, sal_1c, sal_1d, sal_2a, sal_2b, sal_3a, sal_3b]:
    draw_band(p2, seg)
draw_spikes(p2, sal_spikes)

# panel 3: SST
p3 = panel(368, 21, SST_RANGE, SST_TICKS, "SST (\u00b0C)", 95, 3)
for seg in [sst_1a, sst_1b, sst_1c, sst_2a, sst_2b, sst_3a, sst_3b]:
    draw_band(p3, seg)
draw_spikes(p3, sst_spikes)

# transparent strip overlapping the bottom of panel 3: corner triangle + x title
pts = " ".join("%d,%d" % (x, y) for x, y in zip(CORNER_X, CORNER_Y))
strip_html = (
    '<div style="position:relative;width:%dpx;height:%dpx;pointer-events:none;overflow:hidden;">'
    '<svg width="%d" height="%d" style="position:absolute;left:0;top:0;">'
    '<polygon points="%s" fill="%s"/></svg>'
    '<div style="position:absolute;left:363px;top:54px;width:801px;text-align:center;'
    "font-family:'Noto Sans';font-size:33px;line-height:34px;color:#1a1a1a;\">%s</div>"
    '</div>') % (W, STRIP_H, W, STRIP_H, pts, BLUE, X_TITLE)
strip = Div(text=strip_html, width=W, height=STRIP_H, margin=(-STRIP_H, 0, 0, 0))

layout = column(p1, p2, p3, strip, spacing=0)
open("out.html", "w").write(file_html(layout, INLINE))
